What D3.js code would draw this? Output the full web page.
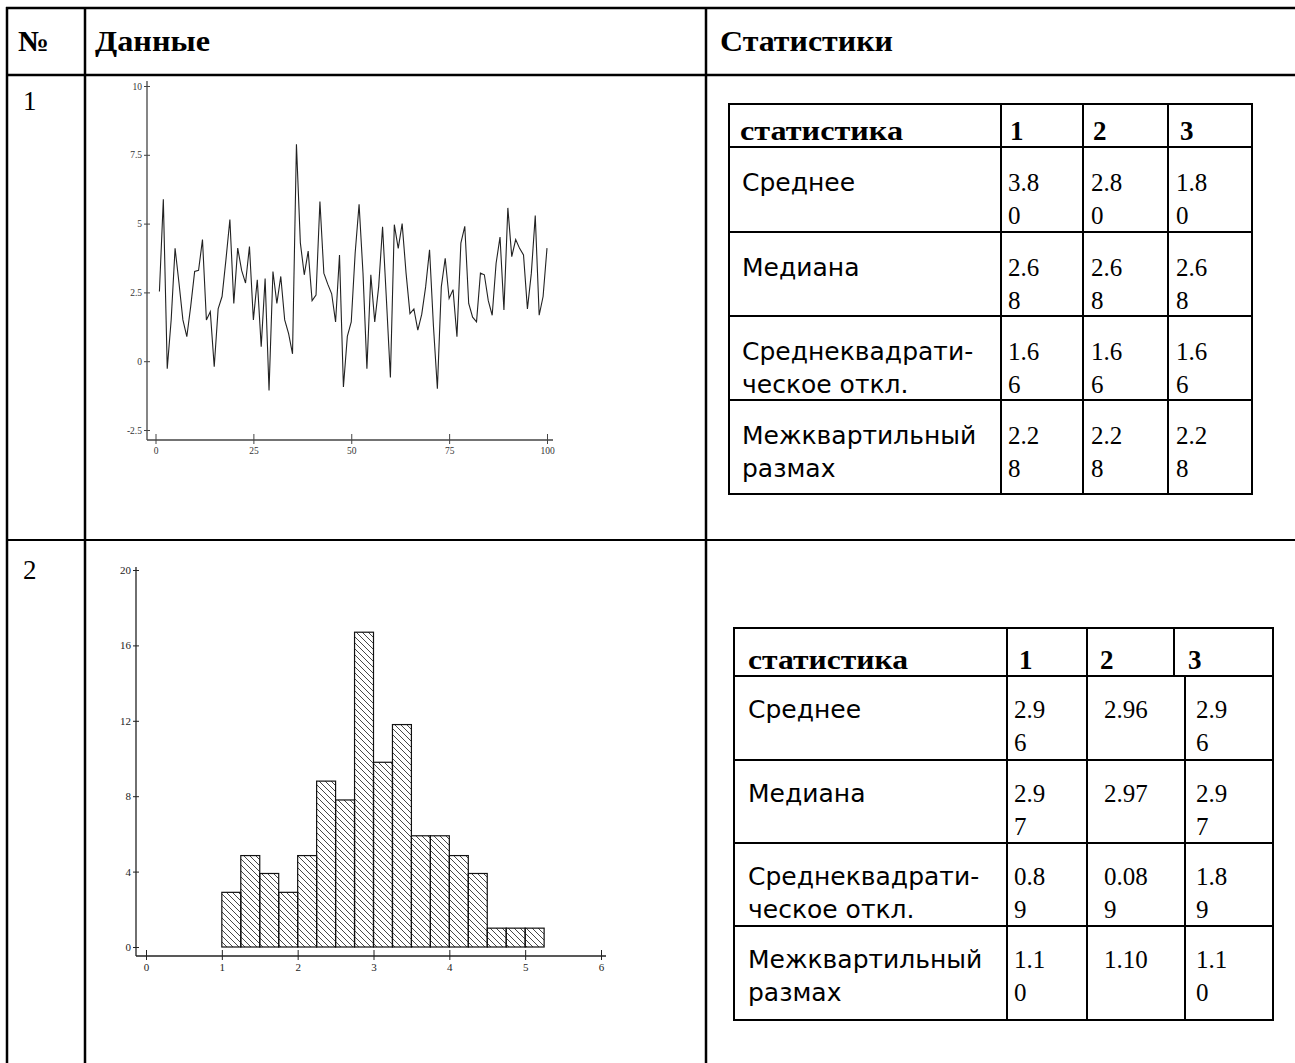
<!DOCTYPE html>
<html><head><meta charset="utf-8">
<script src="https://cdn.jsdelivr.net/npm/d3@7"></script>
<style>body{margin:0;background:#fff} svg{display:block}</style>
</head><body><svg id="c" width="1295" height="1063"></svg>
<script>
// ---------- data ----------
const lineValues = [2.53,5.88,-0.27,1.5,4.1,2.84,1.5,0.89,2.0,3.26,
  3.3,4.42,1.5,1.8,-0.2,1.9,2.35,3.7,5.15,2.1,
  4.11,3.3,2.84,4.17,1.5,2.96,0.53,3.0,-1.06,3.26,
  2.1,3.08,1.5,1.0,0.27,7.88,4.3,3.14,4.0,2.2,
  2.4,5.8,3.2,2.8,2.45,1.43,3.86,-0.94,0.9,1.43,
  3.93,5.7,3.2,-0.27,3.14,1.43,2.7,4.88,2.2,-0.59,
  4.96,4.1,5.0,3.2,1.73,1.9,1.13,1.7,2.7,4.05,
  1.26,-1.0,2.7,3.74,2.28,2.6,0.89,4.29,4.9,2.1,
  1.6,1.43,3.2,3.14,2.2,1.67,3.56,4.51,1.86,5.57,
  3.8,4.42,4.1,3.86,1.9,3.2,5.29,1.67,2.35,4.11];
const lineTicksX = [0,25,50,75,100];
const lineTicksY = [-2.5,0,2.5,5,7.5,10];

const histBinStart = [1,1.25,1.5,1.75,2,2.25,2.5,2.75,3,3.25,3.5,3.75,4,4.25,4.5,4.75,5];
const histBinEnd   = [1.25,1.5,1.75,2,2.25,2.5,2.75,3,3.25,3.5,3.75,4,4.25,4.5,4.75,5,5.25];
const histHeights  = [2.9,4.85,3.9,2.9,4.85,8.8,7.8,16.7,9.8,11.8,5.9,5.9,4.85,3.9,1.0,1.0,1.0];
const histTicksX = [0,1,2,3,4,5,6];
const histTicksY = [0,4,8,12,16,20];

const mainHeader = ["№","Данные","Статистики"];
const rowNumbers = ["1","2"];
const statHeader = ["статистика","1","2","3"];
const statLabels = [["Среднее"],["Медиана"],["Среднеквадрати-","ческое откл."],["Межквартильный","размах"]];
const table1Values = [["3.80","2.80","1.80"],["2.68","2.68","2.68"],["1.66","1.66","1.66"],["2.28","2.28","2.28"]];
const table2Values = [["2.96","2.96","2.96"],["2.97","2.97","2.97"],["0.89","0.089","1.89"],["1.10","1.10","1.10"]];

// ---------- helpers ----------
const svg = d3.select("#c");
const SERIF = "'Liberation Serif','Times New Roman',serif";
const SANS = "'DejaVu Sans','Liberation Sans',sans-serif";
const measurer = svg.append("text").attr("font-family",SERIF).attr("font-size",25).attr("visibility","hidden");
function wrapChars(str, maxW){
  const lines=[]; let cur="";
  for(const ch of str){
    measurer.text(cur+ch);
    if(cur && measurer.node().getComputedTextLength()>maxW){ lines.push(cur); cur=ch; }
    else cur+=ch;
  }
  if(cur) lines.push(cur);
  return lines;
}
function hline(x1,x2,y,w){ svg.append("line").attr("x1",x1).attr("x2",x2).attr("y1",y).attr("y2",y).attr("stroke","#000").attr("stroke-width",w); }
function vline(x,y1,y2,w){ svg.append("line").attr("x1",x).attr("x2",x).attr("y1",y1).attr("y2",y2).attr("stroke","#000").attr("stroke-width",w); }

// ---------- outer table ----------
hline(6,1295,8,2.5);
hline(6,1295,75,2.5);
hline(6,1295,540,2);
vline(7,7,1063,2.5);
vline(85,7,1063,2.5);
vline(706,7,1063,2.5);
const hx=[18,95,720], hw=[31,115,173];
mainHeader.forEach((t,i)=>svg.append("text").attr("x",hx[i]).attr("y",51).attr("font-family",SERIF)
  .attr("font-weight","bold").attr("font-size",29).attr("textLength",hw[i]).attr("lengthAdjust","spacingAndGlyphs").text(t));
const rny=[110,579];
rowNumbers.forEach((t,i)=>svg.append("text").attr("x",23).attr("y",rny[i]).attr("font-family",SERIF)
  .attr("font-size",27).text(t));

// ---------- line chart ----------
{
  const x = d3.scaleLinear().domain([0,100]).range([155.5,547]);
  const y = d3.scaleLinear().domain([-2.5,10]).range([430,86]);
  const g = svg.append("g");
  const axX = x(0)-8.5, axY = y(-2.5)+10;
  g.append("line").attr("x1",axX).attr("x2",axX).attr("y1",y(10)-5).attr("y2",axY).attr("stroke","#444").attr("stroke-width",1.3);
  g.append("line").attr("x1",axX).attr("x2",x(100)+6).attr("y1",axY).attr("y2",axY).attr("stroke","#444").attr("stroke-width",1.3);
  const ya = g.append("g").attr("transform",`translate(${axX},0)`)
    .call(d3.axisLeft(y).tickValues(lineTicksY).tickSize(3).tickPadding(2).tickFormat(d=>String(d)));
  ya.select(".domain").remove();
  ya.selectAll(".tick line").attr("x1",3).attr("x2",-3).attr("stroke","#444");
  ya.selectAll("text").attr("font-family",SERIF).attr("font-size",9.5).attr("fill","#333");
  const xa = g.append("g").attr("transform",`translate(0,${axY})`)
    .call(d3.axisBottom(x).tickValues(lineTicksX).tickSize(4).tickPadding(3).tickFormat(d=>String(d)));
  xa.select(".domain").remove();
  xa.selectAll(".tick line").attr("y1",-6).attr("y2",4).attr("stroke","#444");
  xa.selectAll("text").attr("font-family",SERIF).attr("font-size",9.5).attr("fill","#333");
  g.append("path").datum(lineValues)
    .attr("d",d3.line().x((d,i)=>x(i+1)).y(d=>y(d)))
    .attr("fill","none").attr("stroke","#222").attr("stroke-width",1.1);
}

// ---------- histogram ----------
{
  const x = d3.scaleLinear().domain([0,6]).range([146,601]);
  const y = d3.scaleLinear().domain([0,20]).range([947,570]);
  const defs = svg.append("defs");
  const p = defs.append("pattern").attr("id","hatch").attr("patternUnits","userSpaceOnUse")
    .attr("width",6).attr("height",6);
  p.append("path").attr("d","M0,0L6,6M-1,5L1,7M5,-1L7,1").attr("stroke","#333").attr("stroke-width",0.9);
  const g = svg.append("g");
  const axX = x(0)-10, axY = y(0)+9;
  g.append("line").attr("x1",axX).attr("x2",axX).attr("y1",y(20)-3).attr("y2",axY).attr("stroke","#222").attr("stroke-width",1.3);
  g.append("line").attr("x1",axX).attr("x2",x(6)+5).attr("y1",axY).attr("y2",axY).attr("stroke","#222").attr("stroke-width",1.3);
  const ya = g.append("g").attr("transform",`translate(${axX},0)`)
    .call(d3.axisLeft(y).tickValues(histTicksY).tickSize(3).tickPadding(2).tickFormat(d=>String(d)));
  ya.select(".domain").remove();
  ya.selectAll(".tick line").attr("x1",3).attr("x2",-3).attr("stroke","#222");
  ya.selectAll("text").attr("font-family",SERIF).attr("font-size",11).attr("fill","#222");
  const xa = g.append("g").attr("transform",`translate(0,${axY})`)
    .call(d3.axisBottom(x).tickValues(histTicksX).tickSize(4).tickPadding(3).tickFormat(d=>String(d)));
  xa.select(".domain").remove();
  xa.selectAll(".tick line").attr("y1",-6).attr("y2",4).attr("stroke","#222");
  xa.selectAll("text").attr("font-family",SERIF).attr("font-size",11).attr("fill","#222");
  g.selectAll("rect.bar").data(histHeights).join("rect").attr("class","bar")
    .attr("x",(d,i)=>x(histBinStart[i])).attr("width",(d,i)=>x(histBinEnd[i])-x(histBinStart[i]))
    .attr("y",d=>y(d)).attr("height",d=>y(0)-y(d))
    .attr("fill","url(#hatch)").attr("stroke","#111").attr("stroke-width",1.2);
}

// ---------- stats tables ----------
function drawTable(cfg, values){
  const {left,right,top,headH,rowHs,headCols,bodyCols,labelX,numX,maxW,headX} = cfg;
  const rowTops=[top+headH]; rowHs.forEach(h=>rowTops.push(rowTops[rowTops.length-1]+h));
  const bottom = rowTops[rowTops.length-1];
  hline(left-1,right+1,top,2);
  rowTops.forEach(yy=>hline(left-1,right+1,yy,2));
  vline(left,top,bottom,2); vline(right,top,bottom,2);
  headCols.forEach(c=>vline(c,top,top+headH,2));
  bodyCols.forEach(c=>vline(c,top+headH,bottom,2));
  statHeader.forEach((t,i)=>{
    const tx = svg.append("text").attr("x",headX[i]).attr("y",top+cfg.headBase)
      .attr("font-family",SERIF).attr("font-weight","bold").attr("font-size",27).text(t);
    if(i===0) tx.attr("textLength",cfg.headW).attr("lengthAdjust","spacingAndGlyphs");
  });
  values.forEach((row,i)=>{
    const ry = rowTops[i]+cfg.rowBase;
    statLabels[i].forEach((l,k)=>svg.append("text").attr("x",labelX).attr("y",ry+k*33)
      .attr("font-family",SANS).attr("font-size",25).text(l));
    row.forEach((v,j)=>{
      wrapChars(v,maxW[j]).forEach((ln,k)=>svg.append("text").attr("x",numX[j]).attr("y",ry+k*33)
        .attr("font-family",SERIF).attr("font-size",25).text(ln));
    });
  });
}
drawTable({left:729,right:1252,top:104,headH:43,rowHs:[85,84,84,94],headCols:[1001,1083,1168],bodyCols:[1001,1083,1168],
  labelX:742,numX:[1008,1091,1176],maxW:[38,38,38],headX:[740,1010,1093,1180],headW:163,headBase:36,rowBase:44},table1Values);
drawTable({left:734,right:1273,top:628,headH:48,rowHs:[84,83,83,94],headCols:[1007,1087,1174],bodyCols:[1007,1087,1185],
  labelX:748,numX:[1014,1104,1196],maxW:[38,52,38],headX:[748,1019,1100,1188],headW:160,headBase:41,rowBase:42},table2Values);
</script></body></html>
